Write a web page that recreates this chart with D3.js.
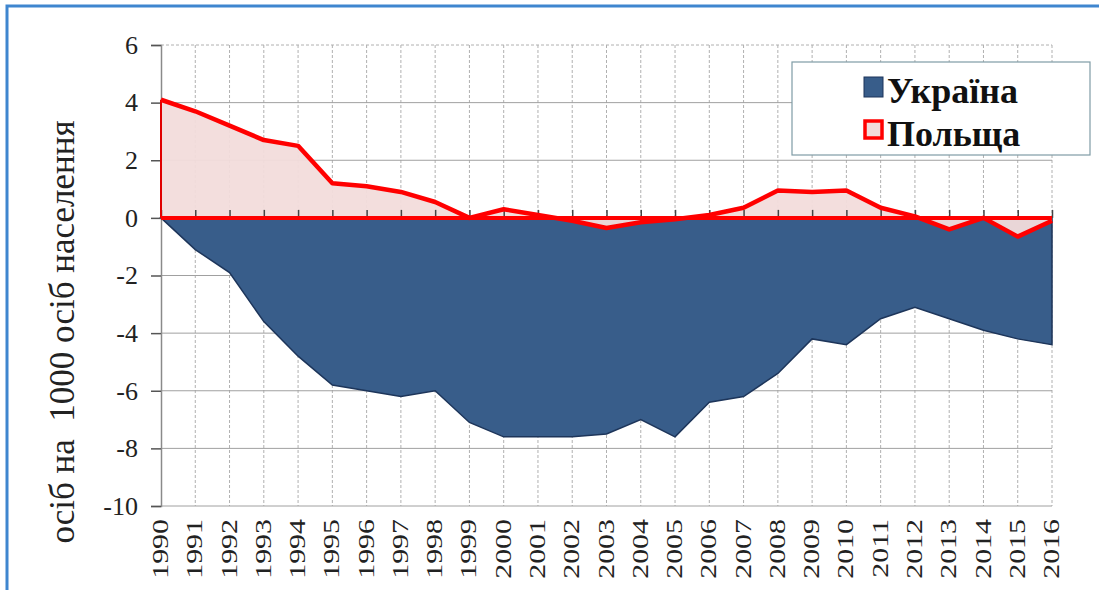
<!DOCTYPE html>
<html>
<head>
<meta charset="utf-8">
<script src="https://cdn.jsdelivr.net/npm/d3@7"></script>
<style>
  html, body { margin: 0; padding: 0; background: #fff; }
  svg { display: block; }
  svg text { font-family: "Liberation Serif", "Times New Roman", Tinos, "DejaVu Serif", serif; }
</style>
</head>
<body>
<svg id="chart" width="1099" height="590"></svg>
<script>
const years = [1990,1991,1992,1993,1994,1995,1996,1997,1998,1999,2000,2001,2002,2003,2004,2005,2006,2007,2008,2009,2010,2011,2012,2013,2014,2015,2016];
const ukraine = [0,-1.1,-1.9,-3.6,-4.8,-5.8,-6.0,-6.2,-6.0,-7.1,-7.6,-7.6,-7.6,-7.5,-7.0,-7.6,-6.4,-6.2,-5.4,-4.2,-4.4,-3.5,-3.1,-3.5,-3.9,-4.2,-4.4];
const poland = [4.1,3.7,3.2,2.7,2.5,1.2,1.1,0.9,0.55,0,0.3,0.1,-0.1,-0.35,-0.15,-0.05,0.1,0.35,0.95,0.9,0.95,0.35,0.05,-0.4,0,-0.65,-0.1];
const yTicks = [-10,-8,-6,-4,-2,0,2,4,6];
const seriesNames = ["Україна","Польща"];
const yTitle = "осіб на  1000 осіб населення";

const svg = d3.select("#chart");
const W = 1099, H = 590;
const margin = {left: 161, top: 45, right: 47, bottom: 84};
const x = d3.scaleLinear().domain([1990, 2016]).range([margin.left, W - margin.right]);
const y = d3.scaleLinear().domain([-10, 6]).range([H - margin.bottom, margin.top]);

// outer frame
svg.append("rect").attr("x", 7).attr("y", 6).attr("width", W).attr("height", H)
  .attr("fill", "#fff").attr("stroke", "#3f86cf").attr("stroke-width", 3);

// vertical dashed grid
svg.append("g").selectAll("line").data(years.slice(1)).join("line")
  .attr("x1", d => x(d)).attr("x2", d => x(d))
  .attr("y1", y(6)).attr("y2", y(-10))
  .attr("stroke", "#b0b0b0").attr("stroke-width", 1).attr("stroke-dasharray", "3,2");

// horizontal grid
svg.append("g").selectAll("line").data(yTicks.filter(d => d !== 0)).join("line")
  .attr("x1", x(1990)).attr("x2", x(2016))
  .attr("y1", d => y(d)).attr("y2", d => y(d))
  .attr("stroke", d => d === 6 ? "#b0b0b0" : "#a0a0a0").attr("stroke-width", 1)
  .attr("stroke-dasharray", d => d === 6 ? "3,2" : null);

// Ukraine area
const areaU = d3.area().x((d, i) => x(years[i])).y0(y(0)).y1(d => y(d));
svg.append("path").datum(ukraine).attr("d", areaU)
  .attr("fill", "#385d8a").attr("stroke", "#1d355a").attr("stroke-width", 1.5);

// y axis
const yAxis = d3.axisLeft(y).tickValues(yTicks).tickSize(10).tickFormat(d3.format("d"));
const gy = svg.append("g").attr("transform", `translate(${x(1990)},0)`).call(yAxis);
gy.attr("font-family", null).attr("font-size", null);
gy.select(".domain").attr("stroke", "#8a8a8a").attr("stroke-width", 1.5);
gy.selectAll(".tick line").attr("stroke", "#555").attr("stroke-width", 1.5);
gy.selectAll(".tick text").attr("x", -23).style("font-size", "26px").attr("fill", "#222")
  .text(d => d < 0 ? "-" + Math.abs(d) : d);

// Poland area (on top)
const areaP = d3.area().x((d, i) => x(years[i])).y0(y(0)).y1(d => y(d));
svg.append("path").datum(poland).attr("d", areaP)
  .attr("fill", "#f2dcdb").attr("fill-opacity", 0.95).attr("stroke", "none");
// x axis at 0 (category axis) with upward ticks
const xAxis = d3.axisTop(x).tickValues(years).tickSize(8).tickFormat("");
const gx = svg.append("g").attr("transform", `translate(0,${y(0)})`).call(xAxis);
gx.select(".domain").remove();
gx.selectAll(".tick line").attr("stroke", "#444").attr("stroke-width", 1.5);
// Poland outline: thin left edge, thick baseline and thick value line
svg.append("line").attr("x1", x(1990)).attr("x2", x(1990)).attr("y1", y(0)).attr("y2", y(poland[0]))
  .attr("stroke", "#e00000").attr("stroke-width", 2);
svg.append("line").attr("x1", x(1990)).attr("x2", x(2016)).attr("y1", y(0)).attr("y2", y(0))
  .attr("stroke", "#ff0000").attr("stroke-width", 4);
const lineP = d3.line().x((d, i) => x(years[i])).y(d => y(d));
svg.append("path").datum(poland).attr("d", lineP)
  .attr("fill", "none").attr("stroke", "#ff0000").attr("stroke-width", 4.5).attr("stroke-linejoin", "round");

// x labels (rotated)
svg.append("g").selectAll("text").data(years).join("text")
  .attr("transform", d => `translate(${x(d) - 1},519) rotate(-90) scale(1.3,1)`)
  .attr("text-anchor", "end").attr("dy", "0.35em")
  .style("font-size", "23px").attr("fill", "#222")
  .text(d => d);

// y title
svg.append("text")
  .attr("transform", `translate(74,332) rotate(-90)`)
  .attr("text-anchor", "middle")
  .style("font-size", "35px").attr("fill", "#222")
  .style("white-space", "pre")
  .text(yTitle);

// legend
const lg = svg.append("g");
lg.append("rect").attr("x", 792).attr("y", 62).attr("width", 298).attr("height", 93)
  .attr("fill", "#fff").attr("stroke", "#7f9ca6").attr("stroke-width", 1.2);
lg.append("rect").attr("x", 864).attr("y", 77).attr("width", 19).attr("height", 20)
  .attr("fill", "#385d8a").attr("stroke", "#1d355a").attr("stroke-width", 1);
lg.append("rect").attr("x", 865).attr("y", 121).attr("width", 17).attr("height", 17)
  .attr("fill", "#f2dcdb").attr("stroke", "#ff0000").attr("stroke-width", 3.5);
lg.selectAll("text.lab").data(seriesNames).join("text").attr("class", "lab")
  .attr("x", 887).attr("y", (d, i) => 103 + i * 43)
  .style("font-weight", "bold").style("font-size", "36px").attr("fill", "#111")
  .text(d => d);
</script>
</body>
</html>
